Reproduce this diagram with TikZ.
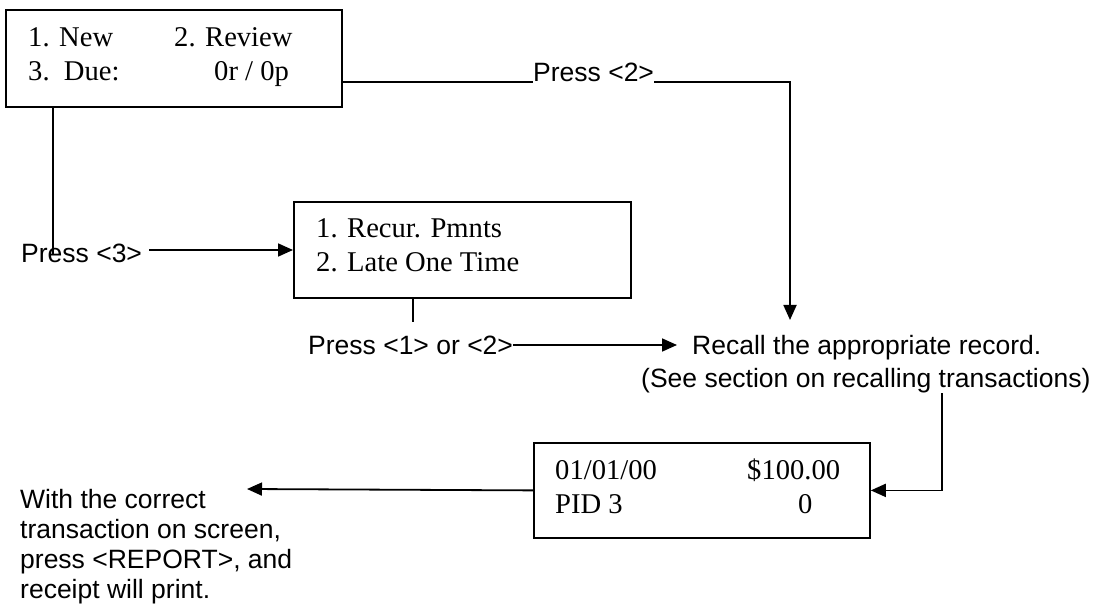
\documentclass[tikz,border=0pt]{standalone}
\usepackage{fontspec}
\setmainfont{Liberation Serif}
\setsansfont{Liberation Sans}
\usetikzlibrary{arrows.meta}
\begin{document}
\begin{tikzpicture}[x=1pt,y=-1pt,
  screen/.style={draw, line width=1.8pt, inner sep=0pt, anchor=north west},
  scr/.style={inner sep=0pt, anchor=base west, font=\fontsize{28.6}{34}\selectfont},
  lbl/.style={inner sep=0pt, anchor=base west, font=\sffamily\fontsize{26.5}{30.5}\selectfont},
  wire/.style={line width=1.8pt},
  arr/.style={wire, -{Triangle[length=15pt,width=13pt]}}]
\useasboundingbox (0,0) rectangle (1096,604);

% terminal screens
\node[screen, minimum width=336pt, minimum height=97pt] (menu) at (5,9) {};
\node[screen, minimum width=337pt, minimum height=96pt] (late) at (293,201) {};
\node[screen, minimum width=336pt, minimum height=95pt] (record) at (533,442) {};

% screen contents
\node[scr] (m1) at (28,47) {1. New};
\node[scr] (m2) at (174,47) {2. Review};
\node[scr] (m3) at (28,81) {3.\ \ Due:};
\node[scr] (m4) at (214,81) {0r / 0p};
\node[scr] (l1) at (316,238) {1. Recur. Pmnts};
\node[scr] (l2) at (316,272) {2. Late One Time};
\node[scr] (r1) at (555,479) {01/01/00};
\node[scr] (r2) at (747,479) {\$100.00};
\node[scr] (r3) at (555,513) {PID 3};
\node[scr] (r4) at (798,513) {0};

% key presses and instructions
\node[lbl] (p2) at (533,82) {Press <2>};
\node[lbl] (p3) at (21,263) {Press <3>};
\node[lbl] (p12) at (308,355) {Press <1> or <2>};
\node[lbl] (recall1) at (692,355) {Recall the appropriate record.};
\node[lbl] (recall2) at (641,388) {(See section on recalling transactions)};
\node[lbl] (f1) at (20,508) {With the correct};
\node[lbl] (f2) at (20,538) {transaction on screen,};
\node[lbl] (f3) at (20,568) {press <REPORT>, and};
\node[lbl] (f4) at (20,598) {receipt will print.};

% connector end points
\coordinate (t2) at (790,320);
\coordinate (d3) at (53,255);
\coordinate (s3) at (149,250);
\coordinate (d12) at (413,322);
\coordinate (t12) at (677,345);
\coordinate (c1) at (942,393);
\coordinate (t5) at (247,489);

% connectors
\draw[wire] (menu.east |- p2.base) -- (p2.base west);
\draw[arr] (p2.base east) -| (t2);
\draw[wire] (menu.south -| d3) -- (d3);
\draw[arr] (s3) -- (late.west |- s3);
\draw[wire] (late.south -| d12) -- (d12);
\draw[arr] (p12.base east |- t12) -- (t12);
\draw[arr] (c1) |- (record.east);
\draw[arr] (record.west) -- (t5);
\end{tikzpicture}
\end{document}
